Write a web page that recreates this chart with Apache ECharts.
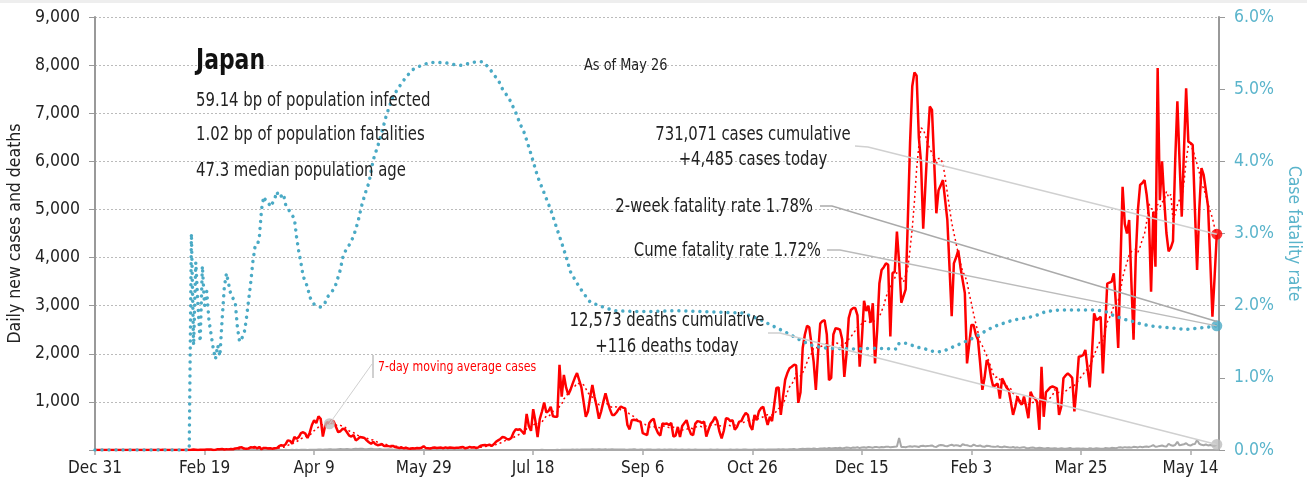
<!DOCTYPE html>
<html>
<head>
<meta charset="utf-8">
<script src="https://cdn.jsdelivr.net/npm/echarts@6/dist/echarts.min.js"></script>
<style>
  html, body { margin: 0; padding: 0; background: #fff; }
  #chart { width: 1307px; height: 488px; }
</style>
</head>
<body>
<div id="chart"></div>
<script>
const FONT = '"DejaVu Sans Condensed", "Liberation Sans Narrow", sans-serif'

// x ticks every 50 days starting Dec 31 2019 (day 0)
const tickLabels = ['Dec 31', 'Feb 19', 'Apr 9', 'May 29', 'Jul 18', 'Sep 6', 'Oct 26', 'Dec 15', 'Feb 3', 'Mar 25', 'May 14']

// daily new cases, one value per day from Dec 31 2019 to May 26 2021
const dailyCases = [
  0,0,0,0,0,0,0,0,0,0,0,0,0,0,0,0,1,0,0,0,0,0,0,0,1,1,0,1,1,3,
  1,3,2,1,0,0,0,0,0,0,1,0,1,0,3,8,7,1,6,4,6,9,12,9,2,7,14,16,20,11,
  15,13,21,15,30,34,53,56,30,25,29,56,51,62,34,64,15,43,40,33,34,28,34,40,80,100,90,120,200,190,
  130,270,230,270,350,370,340,250,360,520,620,560,700,650,280,500,580,550,620,590,480,370,390,440,430,370,300,280,310,200,
  230,270,260,250,200,160,130,170,120,100,110,120,80,90,80,70,85,60,50,40,50,35,45,30,25,35,30,40,35,45,
  80,40,35,30,45,50,40,45,50,38,55,40,50,45,40,45,48,55,60,35,45,65,50,58,40,55,90,100,105,95,
  110,85,120,170,200,230,270,260,230,220,250,360,430,420,430,380,330,750,500,400,850,600,270,640,800,985,780,810,900,700,
  690,690,1770,1110,1560,1300,1150,1250,1380,1500,1600,1450,1300,1000,690,800,1100,1350,1100,900,650,800,1000,1180,1000,850,730,730,780,850,
  900,880,865,520,430,620,630,620,600,590,350,330,310,560,620,650,450,350,300,550,540,550,520,560,280,300,480,270,500,560,
  620,450,330,310,550,600,590,560,590,280,420,545,600,690,600,380,240,400,660,650,600,620,420,480,590,600,700,770,730,500,
  420,730,620,800,870,900,700,520,690,600,940,1290,1300,730,1100,1460,1600,1700,1730,1770,1760,980,1200,2120,2400,2580,2550,2200,1830,1250,
  2000,2630,2680,2700,2400,1450,1500,2400,2530,2520,2500,2300,1520,2000,2740,2910,2950,2950,2800,1730,2300,3100,2890,3000,2650,3050,1800,2500,3460,3740,
  3800,3880,3850,2360,3680,3700,4540,3900,3060,3200,3340,4800,6380,7560,7850,7780,6500,5980,4600,5500,6380,7140,7070,6000,4920,5400,5500,5610,5200,4790,
  3800,2780,3880,4000,4150,3800,3530,3260,1800,2200,2600,2600,2400,2290,1800,1250,1500,1870,1770,1500,1310,1350,1380,1070,1490,1400,1300,1250,1000,730,
  900,1110,1000,940,1110,900,660,1210,1100,1070,1000,420,1730,690,1200,1250,1300,1320,1300,1280,730,900,1490,1550,1590,1550,1500,800,1300,1940,
  1950,1970,2080,1700,1300,2000,2840,2700,2730,2770,1590,2500,3460,3480,3500,3670,3000,2120,3800,5470,4700,4500,4780,3500,2290,4000,4990,5510,5550,5610,
  5300,4850,3290,4950,3810,7940,5190,6000,5200,4510,4130,4200,4340,6000,7250,6000,4850,6200,7520,6410,6380,6340,5000,3740,5000,5860,5720,5400,5060,3950,2770,3600,4485
]

// daily deaths, same days
const dailyDeaths = [
  0,0,0,0,0,0,0,0,0,0,0,0,0,0,0,0,0,0,0,0,0,0,0,0,0,0,0,0,0,0,
  0,0,0,0,0,0,0,0,0,0,0,0,0,0,1,0,0,0,0,0,1,0,0,1,0,0,0,1,1,0,
  0,1,0,2,0,1,0,1,0,0,1,2,0,1,0,1,1,0,0,1,2,1,0,3,1,2,1,3,2,1,
  3,2,5,1,4,3,6,2,5,7,6,4,9,8,5,12,10,14,13,11,9,15,20,16,18,22,17,12,21,25,
  19,24,26,18,14,22,27,20,16,15,21,13,10,9,14,11,8,6,10,7,5,8,4,3,6,2,5,3,4,2,
  1,2,0,3,1,2,1,0,2,1,0,1,2,0,1,1,0,2,1,0,1,0,1,0,2,1,0,1,0,1,
  0,1,2,0,1,1,0,1,0,2,1,0,1,2,1,0,1,2,0,1,1,2,0,1,3,1,2,0,1,2,
  1,3,2,4,3,5,6,4,8,7,9,6,12,10,8,13,11,14,9,12,16,10,13,15,8,11,14,12,9,10,
  11,13,8,6,12,10,14,9,7,11,8,6,10,12,9,7,5,11,8,6,9,7,10,8,5,9,6,4,8,7,
  6,9,5,4,8,7,5,6,3,7,5,9,4,6,8,5,3,7,6,4,8,5,6,9,7,4,8,10,6,5,
  7,9,6,11,8,10,5,12,9,13,11,8,14,10,16,12,9,18,15,20,13,17,22,25,19,24,28,20,31,26,
  22,33,29,35,27,41,30,38,44,36,48,33,42,51,45,39,53,47,56,40,50,58,46,63,55,49,62,60,52,64,
  58,66,70,55,62,68,72,250,60,65,58,70,78,66,80,74,62,85,90,76,82,88,95,70,64,92,104,98,84,78,
  96,110,88,101,93,76,120,105,98,85,79,112,90,84,95,72,68,88,81,74,70,65,77,60,58,71,63,55,50,62,
  48,55,44,52,60,42,38,46,50,40,35,47,42,30,36,44,33,29,38,31,27,35,30,26,33,40,28,24,32,29,
  25,31,27,22,35,30,26,38,33,28,24,40,36,31,45,42,38,50,55,48,60,52,58,49,65,62,54,70,58,66,
  72,64,80,100,68,75,85,92,78,70,130,98,88,105,170,96,110,120,140,102,92,118,125,210,130,108,100,115,95,105,90,85,116
]

// case fatality rate (%), read at these days
const cfrDays = [0,43,44,45,46,47,48,49,50,51,52,53,54,55,56,57,58,59,60,61,62,63,64,65,66,67,68,69,70,71,72,73,74,75,76,77,78,79,80,81,82,83,84,85,86,87,88,89,90,91,92,93,94,95,96,97,98,99,100,101,102,103,104,105,106,107,108,109,110,111,112,113,114,115,116,117,118,119,120,121,122,123,124,125,
  127,130,133,136,139,142,145,149,153,157,161,164,167,171,174,177,180,182,184,186,189,192,194,196,199,202,205,208,211,213,215,217,220,223,226,231,237,245,255,265,275,285,295,300,304,310,316,322,328,334,345,355,366,367,370,373,376,379,382,385,388,391,394,397,400,403,406,409,412,415,419,423,428,431,434,440,445,450,456,459,462,465,468,471,474,477,480,484,488,492,495,498,501,504,507,510,512]
const cfrRates = [0,0,3.0,1.45,2.6,2.0,1.5,2.55,2.0,2.2,1.8,1.6,1.4,1.26,1.45,1.3,1.8,2.25,2.45,2.3,2.15,2.1,2.05,1.7,1.5,1.55,1.6,1.8,2.05,2.3,2.6,2.81,2.82,2.95,3.33,3.51,3.45,3.44,3.37,3.42,3.48,3.58,3.5,3.52,3.55,3.4,3.35,3.3,3.25,3.21,2.95,2.75,2.59,2.41,2.33,2.26,2.12,2.07,2.02,2.0,1.99,1.98,2.0,2.04,2.12,2.15,2.19,2.23,2.3,2.4,2.5,2.66,2.74,2.8,2.84,2.9,2.96,3.06,3.16,3.29,3.42,3.52,3.62,3.7,
  4.02,4.3,4.64,4.9,5.04,5.17,5.27,5.33,5.37,5.37,5.36,5.34,5.33,5.36,5.38,5.38,5.29,5.2,5.13,5.0,4.87,4.68,4.52,4.39,4.1,3.79,3.56,3.33,3.05,2.87,2.68,2.47,2.31,2.17,2.05,1.99,1.93,1.92,1.92,1.93,1.92,1.91,1.9,1.85,1.8,1.71,1.62,1.52,1.44,1.41,1.4,1.41,1.4,1.48,1.48,1.45,1.42,1.4,1.37,1.36,1.38,1.42,1.46,1.5,1.54,1.59,1.64,1.69,1.73,1.76,1.8,1.82,1.85,1.88,1.92,1.94,1.94,1.94,1.94,1.93,1.91,1.86,1.83,1.8,1.78,1.75,1.73,1.71,1.7,1.69,1.68,1.67,1.68,1.69,1.7,1.71,1.72]

const lastDay = dailyCases.length - 1
const avgMarkDay = 107

// 7-day trailing average of cases
const avg7 = dailyCases.map((v, i) => {
  if (i < 6) return [i, null]
  let s = 0
  for (let j = i - 6; j <= i; j++) s += dailyCases[j]
  return [i, s / 7]
})

const chart = echarts.init(document.getElementById('chart'))
const option = {
  animation: false,
  backgroundColor: '#fff',
  textStyle: { fontFamily: FONT },
  grid: { left: 95, right: 88, top: 17, bottom: 38, outerBoundsMode: 'none', containLabel: false },
  xAxis: {
    type: 'value', min: 0, max: 513, interval: 50,
    axisLine: { lineStyle: { color: '#aaa', width: 2 } },
    axisTick: { length: 5, lineStyle: { color: '#aaa', width: 1.5 } },
    axisLabel: {
      formatter: v => (v % 50 === 0 ? tickLabels[v / 50] : ''),
      color: '#222', fontSize: 17, fontFamily: FONT, margin: 10, showMaxLabel: false
    },
    splitLine: { show: false }
  },
  yAxis: [
    {
      type: 'value', min: 0, max: 9000, interval: 1000,
      name: 'Daily new cases and deaths', nameLocation: 'middle', nameRotate: 90, nameGap: 64,
      nameTextStyle: { color: '#222', fontSize: 17.5, fontFamily: FONT },
      axisLine: { show: true, lineStyle: { color: '#999', width: 2 } },
      axisTick: { show: true, length: 6, lineStyle: { color: '#999' } },
      axisLabel: {
        formatter: v => (v === 0 ? '' : v.toLocaleString('en-US')),
        color: '#222', fontSize: 17.5, fontFamily: FONT, margin: 15
      },
      splitLine: { lineStyle: { color: '#bbb', type: [2, 2], width: 1 } }
    },
    {
      type: 'value', min: 0, max: 6, interval: 1, position: 'right',
      name: 'Case fatality rate', nameLocation: 'middle', nameRotate: -90, nameGap: 57,
      nameTextStyle: { color: '#5ab4cb', fontSize: 17.5, fontFamily: FONT },
      axisLine: { show: true, lineStyle: { color: '#999', width: 2 } },
      axisTick: { show: true, length: 6, lineStyle: { color: '#999' } },
      axisLabel: {
        formatter: v => v.toFixed(1) + '%',
        color: '#5ab4cb', fontSize: 17.5, fontFamily: FONT, margin: 15
      },
      splitLine: { show: false }
    }
  ],
  series: [
    {
      name: 'deaths', type: 'line', showSymbol: false, z: 2,
      data: dailyDeaths.map((v, i) => [i, v]),
      lineStyle: { color: '#a8a8a8', width: 2 }
    },
    {
      name: 'cases', type: 'line', showSymbol: false, z: 3,
      data: dailyCases.map((v, i) => [i, v]),
      lineStyle: { color: '#ff0000', width: 2.5 }
    },
    {
      name: 'avg', type: 'line', showSymbol: false, z: 4,
      data: avg7,
      lineStyle: { color: '#ff0000', width: 1.5, type: [2, 3] }
    },
    {
      name: 'cfr', type: 'line', showSymbol: false, z: 5, yAxisIndex: 1,
      data: cfrDays.map((d, i) => [d, cfrRates[i]]),
      lineStyle: { color: '#4aaac5', width: 3.5, type: [0.01, 7], cap: 'round' }
    },
    {
      type: 'scatter', z: 6, symbolSize: 11,
      data: [[avgMarkDay, avg7[avgMarkDay][1]], [lastDay, dailyDeaths[lastDay]]],
      itemStyle: { color: '#bdbdbd' }
    },
    {
      type: 'scatter', z: 6, symbolSize: 11,
      data: [[lastDay, dailyCases[lastDay]]],
      itemStyle: { color: '#ff0000' }
    },
    {
      type: 'scatter', z: 6, symbolSize: 11, yAxisIndex: 1,
      data: [[lastDay, cfrRates[cfrRates.length - 1]]],
      itemStyle: { color: '#4aaac5' }
    }
  ]
}
chart.setOption(option)

// annotation lines end on the plotted points
const p = (x, y, yi) => chart.convertToPixel({ xAxisIndex: 0, yAxisIndex: yi || 0 }, [x, y])
const casesEnd = p(lastDay, dailyCases[lastDay])
const deathsEnd = p(lastDay, dailyDeaths[lastDay])
const twoWeekEnd = p(lastDay, 1.78, 1)
const cumeEnd = p(lastDay, 1.72, 1)
const avgPt = p(avgMarkDay, avg7[avgMarkDay][1])

// condensed-looking text: scale horizontally around the anchor
const txt = (text, x, y, opts) => ({
  type: 'text', z: 20, x, y, scaleX: 0.87,
  style: Object.assign({
    text, x: 0, y: 0, fill: '#222', font: '19px ' + FONT,
    textAlign: 'left', textVerticalAlign: 'middle', align: 'left', verticalAlign: 'middle'
  }, opts || {})
})
const line = (pts, color, w) => ({
  type: 'polyline', z: 15, silent: true,
  shape: { points: pts },
  style: { stroke: color, lineWidth: w || 1.5, fill: null }
})

chart.setOption({
  graphic: [
    { type: 'rect', z: 30, shape: { x: 0, y: 0, width: 1307, height: 3 }, style: { fill: '#eeeeee' } },
    txt('Japan', 196, 62, { font: 'bold 28px ' + FONT, fill: '#111' }),
    txt('59.14 bp of population infected', 196, 101),
    txt('1.02 bp of population fatalities', 196, 135),
    txt('47.3 median population age', 196, 171),
    txt('As of May 26', 584, 66, { font: '16.5px ' + FONT }),
    txt('731,071 cases cumulative', 753, 135, { textAlign: 'center', align: 'center' }),
    txt('+4,485 cases today', 753, 160, { textAlign: 'center', align: 'center' }),
    txt('2-week fatality rate 1.78%', 813, 207, { textAlign: 'right', align: 'right' }),
    txt('Cume fatality rate 1.72%', 821, 251, { textAlign: 'right', align: 'right' }),
    txt('12,573 deaths cumulative', 667, 321, { textAlign: 'center', align: 'center' }),
    txt('+116 deaths today', 667, 347, { textAlign: 'center', align: 'center' }),
    txt('7-day moving average cases', 378, 367, { font: '14px ' + FONT, fill: '#ff0000' }),
    line([[855, 146], [868, 147], casesEnd], '#d0d0d0'),
    line([[820, 206], [832, 206], twoWeekEnd], '#aaaaaa'),
    line([[827, 250], [840, 250], cumeEnd], '#bbbbbb'),
    line([[768, 333], [780, 333], deathsEnd], '#d0d0d0'),
    line([[373, 355], [373, 378]], '#d0d0d0', 2),
    line([[372, 364], avgPt], '#d0d0d0', 1)
  ]
})
</script>
</body>
</html>
